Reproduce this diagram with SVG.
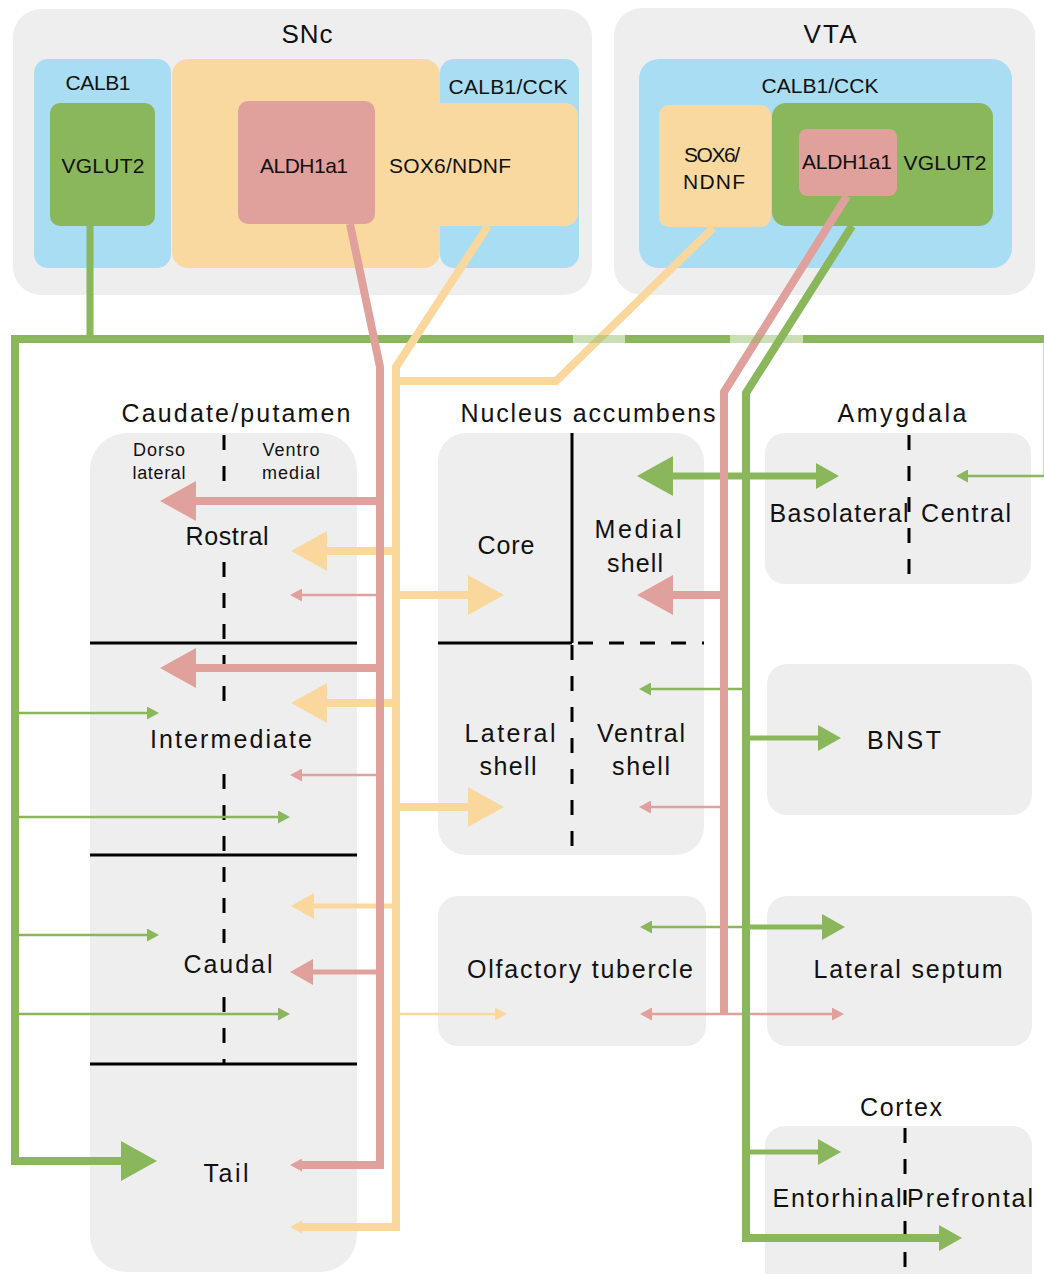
<svg xmlns="http://www.w3.org/2000/svg" width="1044" height="1274" viewBox="0 0 1044 1274">
<defs>
<style>
.t{font-family:"Liberation Sans",Arial,sans-serif;fill:#111;text-anchor:middle}
.f26{font-size:26px}.f25{font-size:25px}.f21{font-size:21px}.f18{font-size:18px}
.box{fill:#eeeeee}.blue{fill:#a9ddf3}.peach{fill:#fad9a0}.green{fill:#8ab75b}.red{fill:#e0a09b}
.r{stroke:#e0a09b;fill:none}.y{stroke:#fad89d;fill:none}.g{stroke:#8ab75b;fill:none}
.w8{stroke-width:8}.w7{stroke-width:7}.w5{stroke-width:5}.w2{stroke-width:2.5}
.blk{stroke:#000;stroke-width:3;fill:none}
.dash{stroke-dasharray:15 16}
.lg{stroke:#8ab75b;stroke-opacity:0.45;stroke-width:8;fill:none}
</style>
<marker id="mbR" markerUnits="userSpaceOnUse" viewBox="0 0 36 40" markerWidth="36" markerHeight="40" refX="1" refY="20" orient="auto"><path d="M0,0L36,20L0,40Z" fill="#e0a09b"/></marker>
<marker id="mbY" markerUnits="userSpaceOnUse" viewBox="0 0 36 40" markerWidth="36" markerHeight="40" refX="1" refY="20" orient="auto"><path d="M0,0L36,20L0,40Z" fill="#fad89d"/></marker>
<marker id="mbG" markerUnits="userSpaceOnUse" viewBox="0 0 36 40" markerWidth="36" markerHeight="40" refX="1" refY="20" orient="auto"><path d="M0,0L36,20L0,40Z" fill="#8ab75b"/></marker>
<marker id="mmR" markerUnits="userSpaceOnUse" viewBox="0 0 23 26" markerWidth="23" markerHeight="26" refX="1" refY="13" orient="auto"><path d="M0,0L23,13L0,26Z" fill="#e0a09b"/></marker>
<marker id="mmY" markerUnits="userSpaceOnUse" viewBox="0 0 23 26" markerWidth="23" markerHeight="26" refX="1" refY="13" orient="auto"><path d="M0,0L23,13L0,26Z" fill="#fad89d"/></marker>
<marker id="mmG" markerUnits="userSpaceOnUse" viewBox="0 0 23 26" markerWidth="23" markerHeight="26" refX="1" refY="13" orient="auto"><path d="M0,0L23,13L0,26Z" fill="#8ab75b"/></marker>
<marker id="msR" markerUnits="userSpaceOnUse" viewBox="0 0 12 13" markerWidth="12" markerHeight="13" refX="1" refY="6.5" orient="auto"><path d="M0,0L12,6.5L0,13Z" fill="#e0a09b"/></marker>
<marker id="msY" markerUnits="userSpaceOnUse" viewBox="0 0 12 13" markerWidth="12" markerHeight="13" refX="1" refY="6.5" orient="auto"><path d="M0,0L12,6.5L0,13Z" fill="#fad89d"/></marker>
<marker id="msG" markerUnits="userSpaceOnUse" viewBox="0 0 12 13" markerWidth="12" markerHeight="13" refX="1" refY="6.5" orient="auto"><path d="M0,0L12,6.5L0,13Z" fill="#8ab75b"/></marker>
</defs>
<rect width="1044" height="1274" fill="#fff"/>

<g id="snc">
<rect class="box" x="13" y="9" width="579" height="286" rx="28"/>
<text class="t f26" x="307" y="43" textLength="51">SNc</text>
</g>
<g id="snc-calb1">
<rect class="blue" x="34" y="59" width="137" height="209" rx="14"/>
<text class="t f21" x="98" y="90" textLength="65">CALB1</text>
</g>
<g id="snc-calb1-cck">
<rect class="blue" x="440" y="59" width="139" height="209" rx="14"/>
<text class="t f21" x="508" y="94" textLength="119">CALB1/CCK</text>
</g>
<g id="snc-sox6-ndnf">
<rect class="peach" x="172" y="59" width="268" height="209" rx="16"/>
<rect class="peach" x="400" y="103" width="178" height="123" rx="13"/>
<text class="t f21" x="450" y="173" textLength="122">SOX6/NDNF</text>
</g>
<g id="snc-vglut2">
<rect class="green" x="50" y="103" width="105" height="123" rx="10"/>
<text class="t f21" x="103" y="173" textLength="83">VGLUT2</text>
</g>
<g id="snc-aldh1a1">
<rect class="red" x="238" y="101" width="137" height="123" rx="10"/>
<text class="t f21" x="304" y="173" textLength="88">ALDH1a1</text>
</g>

<g id="vta">
<rect class="box" x="614" y="8" width="421" height="287" rx="28"/>
<text class="t f26" x="830" y="43" textLength="53">VTA</text>
</g>
<g id="vta-calb1-cck">
<rect class="blue" x="639" y="59" width="373" height="209" rx="20"/>
<text class="t f21" x="820" y="93" textLength="117">CALB1/CCK</text>
</g>
<g id="vta-sox6-ndnf">
<rect class="peach" x="659" y="105" width="112" height="122" rx="10"/>
<text class="t f21" x="712" y="162" textLength="56">SOX6/</text>
<text class="t f21" x="714" y="189" textLength="62">NDNF</text>
</g>
<g id="vta-vglut2">
<rect class="green" x="772" y="103" width="221" height="123" rx="14"/>
<text class="t f21" x="945" y="170" textLength="83">VGLUT2</text>
</g>
<g id="vta-aldh1a1">
<rect class="red" x="799" y="129" width="98" height="67" rx="8"/>
<text class="t f21" x="847" y="169" textLength="90">ALDH1a1</text>
</g>

<g id="caudate-putamen">
<rect class="box" x="90" y="433" width="267" height="839" rx="37"/>
<text class="t f25" x="236" y="422" textLength="229">Caudate/putamen</text>
<text class="t f18" x="159" y="456" textLength="52">Dorso</text>
<text class="t f18" x="159" y="479" textLength="53">lateral</text>
<text class="t f18" x="291" y="456" textLength="57">Ventro</text>
<text class="t f18" x="291" y="479" textLength="58">medial</text>
<path class="blk" d="M90,643H357M90,855H357M90,1064H357"/>
<path class="blk dash" d="M224,435V500M224,562V717M224,774V943M224,997V1064"/>
<text class="t f25" x="227" y="545" textLength="83">Rostral</text>
<text class="t f25" x="231" y="748" textLength="162">Intermediate</text>
<text class="t f25" x="228" y="973" textLength="89">Caudal</text>
<text class="t f25" x="226" y="1182" textLength="45">Tail</text>
</g>

<g id="nucleus-accumbens">
<rect class="box" x="438" y="433" width="266" height="422" rx="28"/>
<text class="t f25" x="588" y="422" textLength="255">Nucleus accumbens</text>
<path class="blk" d="M572,433V643M438,643H572"/>
<path class="blk dash" d="M578,643H704M572,645V855"/>
<text class="t f25" x="506" y="554" textLength="57">Core</text>
<text class="t f25" x="638" y="538" textLength="87">Medial</text>
<text class="t f25" x="635" y="572" textLength="56">shell</text>
<text class="t f25" x="510" y="742" textLength="91">Lateral</text>
<text class="t f25" x="508" y="775" textLength="57">shell</text>
<text class="t f25" x="641" y="742" textLength="88">Ventral</text>
<text class="t f25" x="641" y="775" textLength="58">shell</text>
</g>

<g id="amygdala">
<rect class="box" x="765" y="433" width="266" height="151" rx="20"/>
<text class="t f25" x="902" y="422" textLength="129">Amygdala</text>
<path class="blk dash" d="M909,435V584"/>
<text class="t f25" x="839" y="522" textLength="139">Basolateral</text>
<text class="t f25" x="966" y="522" textLength="90">Central</text>
</g>

<g id="bnst">
<rect class="box" x="767" y="664" width="265" height="151" rx="20"/>
<text class="t f25" x="904" y="749" textLength="74">BNST</text>
</g>

<g id="olfactory-tubercle">
<rect class="box" x="438" y="896" width="268" height="150" rx="20"/>
<text class="t f25" x="580" y="978" textLength="226">Olfactory tubercle</text>
</g>

<g id="lateral-septum">
<rect class="box" x="767" y="896" width="265" height="150" rx="20"/>
<text class="t f25" x="908" y="978" textLength="189">Lateral septum</text>
</g>

<g id="cortex">
<rect class="box" x="765" y="1126" width="267" height="170" rx="20"/>
<text class="t f25" x="901" y="1116" textLength="82">Cortex</text>
<path class="blk dash" d="M905,1128V1274"/>
<text class="t f25" x="837" y="1207" textLength="129">Entorhinal</text>
<text class="t f25" x="970" y="1207" textLength="126">Prefrontal</text>
</g>

<g id="connectors">
<path class="g w8" d="M1044,339H803M730,339H625M573,339H15V1161H122" marker-end="url(#mbG)"/>
<path class="g w7" d="M90,226V339"/>
<path class="g w2" d="M1044.8,339V476H967" marker-end="url(#msG)"/>
<path class="g w2" d="M15,713H148" marker-end="url(#msG)"/>
<path class="g w2" d="M15,817H279" marker-end="url(#msG)"/>
<path class="g w2" d="M15,935H148" marker-end="url(#msG)"/>
<path class="g w2" d="M15,1014H279" marker-end="url(#msG)"/>
<path class="g w7" d="M746,476H672" marker-end="url(#mbG)"/>
<path class="g w7" d="M746,476H817" marker-end="url(#mmG)"/>
<path class="g w2" d="M746,689H650" marker-end="url(#msG)"/>
<path class="g w5" d="M746,738H819" marker-end="url(#mmG)"/>
<path class="g w2" d="M746,927H651" marker-end="url(#msG)"/>
<path class="g w5" d="M746,927H823" marker-end="url(#mmG)"/>
<path class="g w5" d="M746,1152H819" marker-end="url(#mmG)"/>
<path class="y w8" d="M488,226L396,367V1227H301" marker-end="url(#msY)"/>
<path class="y w8" d="M713,228L556,381H396"/>
<path class="y w8" d="M396,551H326" marker-end="url(#mbY)"/>
<path class="y w8" d="M396,595H469" marker-end="url(#mbY)"/>
<path class="y w8" d="M396,703H326" marker-end="url(#mbY)"/>
<path class="y w8" d="M396,807H469" marker-end="url(#mbY)"/>
<path class="y w5" d="M396,906H313" marker-end="url(#mmY)"/>
<path class="y w2" d="M396,1014H496" marker-end="url(#msY)"/>
<path class="r w8" d="M350,224L380,367V1165H301" marker-end="url(#msR)"/>
<path class="r w8" d="M380,501H195" marker-end="url(#mbR)"/>
<path class="r w2" d="M380,595H301" marker-end="url(#msR)"/>
<path class="r w8" d="M380,668H195" marker-end="url(#mbR)"/>
<path class="r w2" d="M380,775H301" marker-end="url(#msR)"/>
<path class="r w5" d="M380,972H312" marker-end="url(#mmR)"/>
<path class="r w8" d="M847,196L724,392V1015"/>
<path class="r w8" d="M724,595H672" marker-end="url(#mbR)"/>
<path class="r w2" d="M724,807H650" marker-end="url(#msR)"/>
<path class="r w2" d="M724,1014H651" marker-end="url(#msR)"/>
<path class="r w2" d="M724,1014H833" marker-end="url(#msR)"/>
<path class="g w8" d="M852,226L746,393V1238H940" marker-end="url(#mmG)"/>
<path class="lg" d="M573,339H625M730,339H803"/>
</g>
</svg>
